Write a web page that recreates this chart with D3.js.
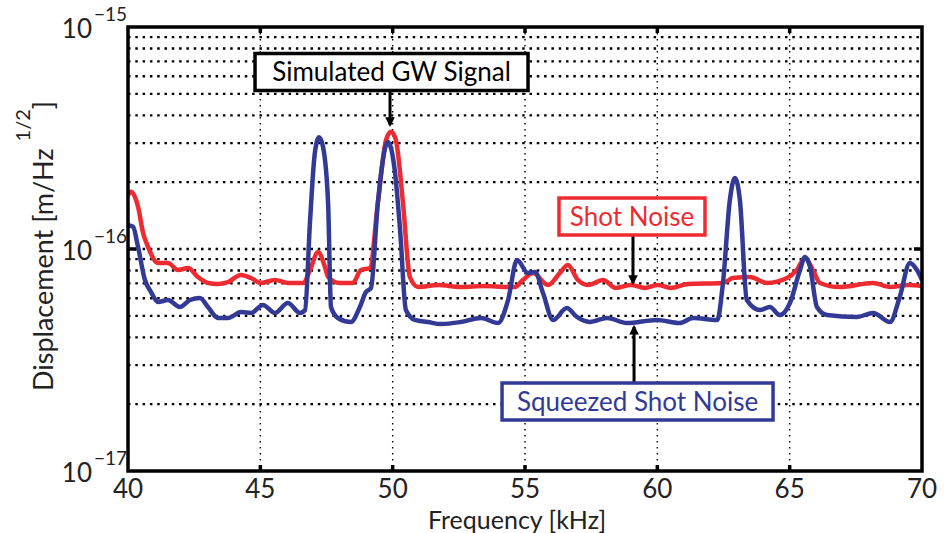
<!DOCTYPE html>
<html>
<head>
<meta charset="utf-8">
<script src="https://cdn.jsdelivr.net/npm/d3@7"></script>
<style>
body{margin:0;background:#fff;}
text{font-family:Lato, "Open Sans", sans-serif;}
</style>
</head>
<body>
<svg id="chart" width="944" height="533"></svg>
<script>
// shot noise (red)
var freqShot = [40.0,40.11,40.38,40.57,40.76,41.13,41.51,41.89,42.27,42.64,43.02,43.40,43.78,44.27,44.65,45.02,45.55,46.04,46.61,46.88,47.18,47.44,47.56,48.0,48.5,48.8,49.14,49.44,49.75,49.94,50.12,50.39,50.65,50.96,51.71,52.58,53.49,54.32,54.62,54.92,55.30,55.87,56.32,56.62,57.00,57.38,57.95,58.44,59.00,59.53,60.02,60.51,61.16,62.48,62.86,63.50,64.14,64.90,65.27,65.58,65.88,66.14,66.90,68.15,68.79,69.5,70.0];
var shotNoise = [1.75e-16,1.81e-16,1.55e-16,1.18e-16,1.02e-16,8.65e-17,8.65e-17,8.04e-17,8.21e-17,7.48e-17,7.03e-17,6.96e-17,7.10e-17,7.64e-17,7.40e-17,7.03e-17,7.25e-17,7.03e-17,7.03e-17,8.04e-17,9.70e-17,8.30e-17,7.48e-17,7.03e-17,7.03e-17,8.04e-17,8.21e-17,1.61e-16,3.10e-16,3.37e-16,3.10e-16,1.61e-16,7.48e-17,6.74e-17,6.89e-17,6.74e-17,6.81e-17,6.74e-17,6.74e-17,7.25e-17,7.80e-17,6.89e-17,7.80e-17,8.47e-17,7.25e-17,6.89e-17,7.25e-17,6.67e-17,6.89e-17,6.67e-17,6.89e-17,6.67e-17,6.96e-17,7.03e-17,7.40e-17,7.48e-17,7.03e-17,7.40e-17,8.04e-17,9.11e-17,8.04e-17,7.03e-17,6.74e-17,7.03e-17,6.74e-17,6.89e-17,6.81e-17];

// squeezed shot noise (blue)
var freqSqz = [40.0,40.19,40.38,40.64,40.87,41.13,41.51,41.96,42.34,42.72,43.02,43.40,43.78,44.27,44.65,45.10,45.55,46.04,46.50,46.69,46.88,47.06,47.22,47.37,47.56,47.67,47.93,48.42,48.76,48.99,49.18,49.44,49.82,50.09,50.28,50.50,50.84,51.33,51.82,52.58,53.34,53.98,54.36,54.70,55.11,55.38,55.68,56.06,56.58,56.96,57.45,58.10,58.85,59.98,60.85,61.35,62.26,62.48,62.74,62.93,63.12,63.38,63.88,64.25,64.63,65.01,65.39,65.58,65.77,66.03,66.41,67.54,68.15,68.79,69.16,69.54,69.81,70.0];
var squeezed = [1.28e-16,1.26e-16,1.02e-16,7.25e-17,6.40e-17,5.77e-17,5.89e-17,5.48e-17,5.89e-17,6.02e-17,5.48e-17,4.89e-17,4.89e-17,5.20e-17,5.15e-17,5.60e-17,5.15e-17,5.71e-17,5.15e-17,5.31e-17,1.35e-16,2.71e-16,3.19e-16,2.88e-16,1.61e-16,5.48e-17,4.89e-17,4.69e-17,5.48e-17,6.40e-17,6.67e-17,1.61e-16,3.03e-16,2.20e-16,1.22e-16,5.31e-17,4.79e-17,4.69e-17,4.59e-17,4.69e-17,4.89e-17,4.64e-17,5.89e-17,8.92e-17,7.80e-17,7.87e-17,6.34e-17,4.79e-17,5.42e-17,4.94e-17,4.69e-17,4.89e-17,4.64e-17,4.79e-17,4.64e-17,4.89e-17,4.79e-17,7.03e-17,1.66e-16,2.09e-16,1.66e-16,5.89e-17,5.31e-17,5.48e-17,5.04e-17,5.71e-17,8.04e-17,9.21e-17,8.30e-17,5.48e-17,5.04e-17,4.94e-17,5.15e-17,4.69e-17,6.08e-17,8.65e-17,8.04e-17,7.25e-17];

var xTicks = [40,45,50,55,60,65,70];
var yExps = [-17,-16,-15];

// labels: text, frequency of arrow, value at arrow tip
var noteText = ["Simulated GW Signal","Shot Noise","Squeezed Shot Noise"];
var noteFreq = [49.9,59.08,59.12];
var noteTip = [3.62e-16,7.03e-17,4.46e-17];

var svg = d3.select("#chart");
var L = 128, T = 27, R = 922, B = 471;
var x = d3.scaleLinear().domain([40,70]).range([L,R]);
var y = d3.scaleLog().domain([1e-17,1e-15]).range([B,T]);

svg.append("rect").attr("width",944).attr("height",533).attr("fill","#fff");

// grid
var grid = svg.append("g");
y.ticks().filter(function(d){ return d>1.01e-17 && d<0.99e-15; }).forEach(function(d){
    grid.append("line")
        .attr("x1",L).attr("x2",R)
        .attr("y1",y(d)).attr("y2",y(d))
        .attr("stroke","#000").attr("stroke-width",2.4)
        .attr("stroke-dasharray","2.5,4.8");
});
xTicks.slice(1,-1).forEach(function(d){
    grid.append("line")
        .attr("x1",x(d)).attr("x2",x(d))
        .attr("y1",T).attr("y2",B)
        .attr("stroke","#000").attr("stroke-width",1.4)
        .attr("stroke-dasharray","1.5,4.5");
});

// curves
var line = d3.line().curve(d3.curveMonotoneX);
svg.append("path")
    .attr("d", line(freqShot.map(function(f,i){ return [x(f), y(shotNoise[i])]; })))
    .attr("fill","none").attr("stroke","#ee2b31").attr("stroke-width",4.5)
    .attr("stroke-linejoin","round");
svg.append("path")
    .attr("d", line(freqSqz.map(function(f,i){ return [x(f), y(squeezed[i])]; })))
    .attr("fill","none").attr("stroke","#323a96").attr("stroke-width",4.5)
    .attr("stroke-linejoin","round");

// frame and ticks
svg.append("rect").attr("x",L).attr("y",T).attr("width",R-L).attr("height",B-T)
    .attr("fill","none").attr("stroke","#000").attr("stroke-width",3.5);
xTicks.slice(1,-1).forEach(function(d){
    svg.append("line").attr("x1",x(d)).attr("x2",x(d)).attr("y1",B).attr("y2",B-6)
        .attr("stroke","#000").attr("stroke-width",3.5);
    svg.append("line").attr("x1",x(d)).attr("x2",x(d)).attr("y1",T).attr("y2",T+6)
        .attr("stroke","#000").attr("stroke-width",3.5);
});
svg.append("line").attr("x1",L).attr("x2",L+8).attr("y1",y(1e-16)).attr("y2",y(1e-16))
    .attr("stroke","#000").attr("stroke-width",3.5);
svg.append("line").attr("x1",R).attr("x2",R-8).attr("y1",y(1e-16)).attr("y2",y(1e-16))
    .attr("stroke","#000").attr("stroke-width",3.5);

// tick labels
xTicks.forEach(function(d){
    svg.append("text").attr("x",x(d)).attr("y",498)
        .attr("text-anchor","middle").attr("font-size",26).attr("fill","#222")
        .text(d);
});
yExps.forEach(function(e){
    var yy = y(Math.pow(10,e));
    svg.append("text").attr("x",92).attr("y",yy+11)
        .attr("text-anchor","end").attr("font-size",26).attr("fill","#222").text("10");
    svg.append("text").attr("x",94).attr("y",yy-6)
        .attr("font-size",19).attr("fill","#222").text("\u2212"+(-e));
});

// axis titles
svg.append("text").attr("x",517).attr("y",529).attr("text-anchor","middle")
    .attr("font-size",25).attr("fill","#222").text("Frequency [kHz]");
var yt = svg.append("text").attr("transform","translate(53,246) rotate(-90)")
    .attr("text-anchor","middle").attr("font-size",27).attr("fill","#222");
yt.append("tspan").text("Displacement [m/Hz ");
yt.append("tspan").attr("dy",-23).attr("font-size",20).text("1/2");
yt.append("tspan").attr("dy",23).text("]");

// annotation boxes
var defs = svg.append("defs");
defs.append("marker").attr("id","head").attr("viewBox","0 0 10 10")
    .attr("refX",8).attr("refY",5).attr("markerWidth",3.2).attr("markerHeight",3.2)
    .attr("orient","auto")
    .append("path").attr("d","M0,0 L10,5 L0,10 z").attr("fill","#000");

var noteColor = ["#000","#ee2b31","#323a96"];
var boxY = [72, 216.5, 401.5];
var boxW = [273, 146, 271];
var boxDx = [1.5, -1, 3.5];
noteText.forEach(function(t,i){
    var ax = x(noteFreq[i]), ty = y(noteTip[i]);
    var cy = boxY[i], cx = ax + boxDx[i], h = 37;
    var from = cy < ty ? cy + h/2 : cy - h/2;
    svg.append("line").attr("x1",ax).attr("x2",ax).attr("y1",from).attr("y2",ty)
        .attr("stroke","#000").attr("stroke-width",3)
        .attr("marker-end","url(#head)");
    svg.append("rect").attr("x",cx-boxW[i]/2).attr("y",cy-h/2)
        .attr("width",boxW[i]).attr("height",h)
        .attr("fill","#fff").attr("stroke",noteColor[i]).attr("stroke-width",3.5);
    svg.append("text").attr("x",cx).attr("y",cy+9)
        .attr("text-anchor","middle").attr("font-size",26)
        .attr("fill",noteColor[i]).text(t);
});
</script>
</body>
</html>
